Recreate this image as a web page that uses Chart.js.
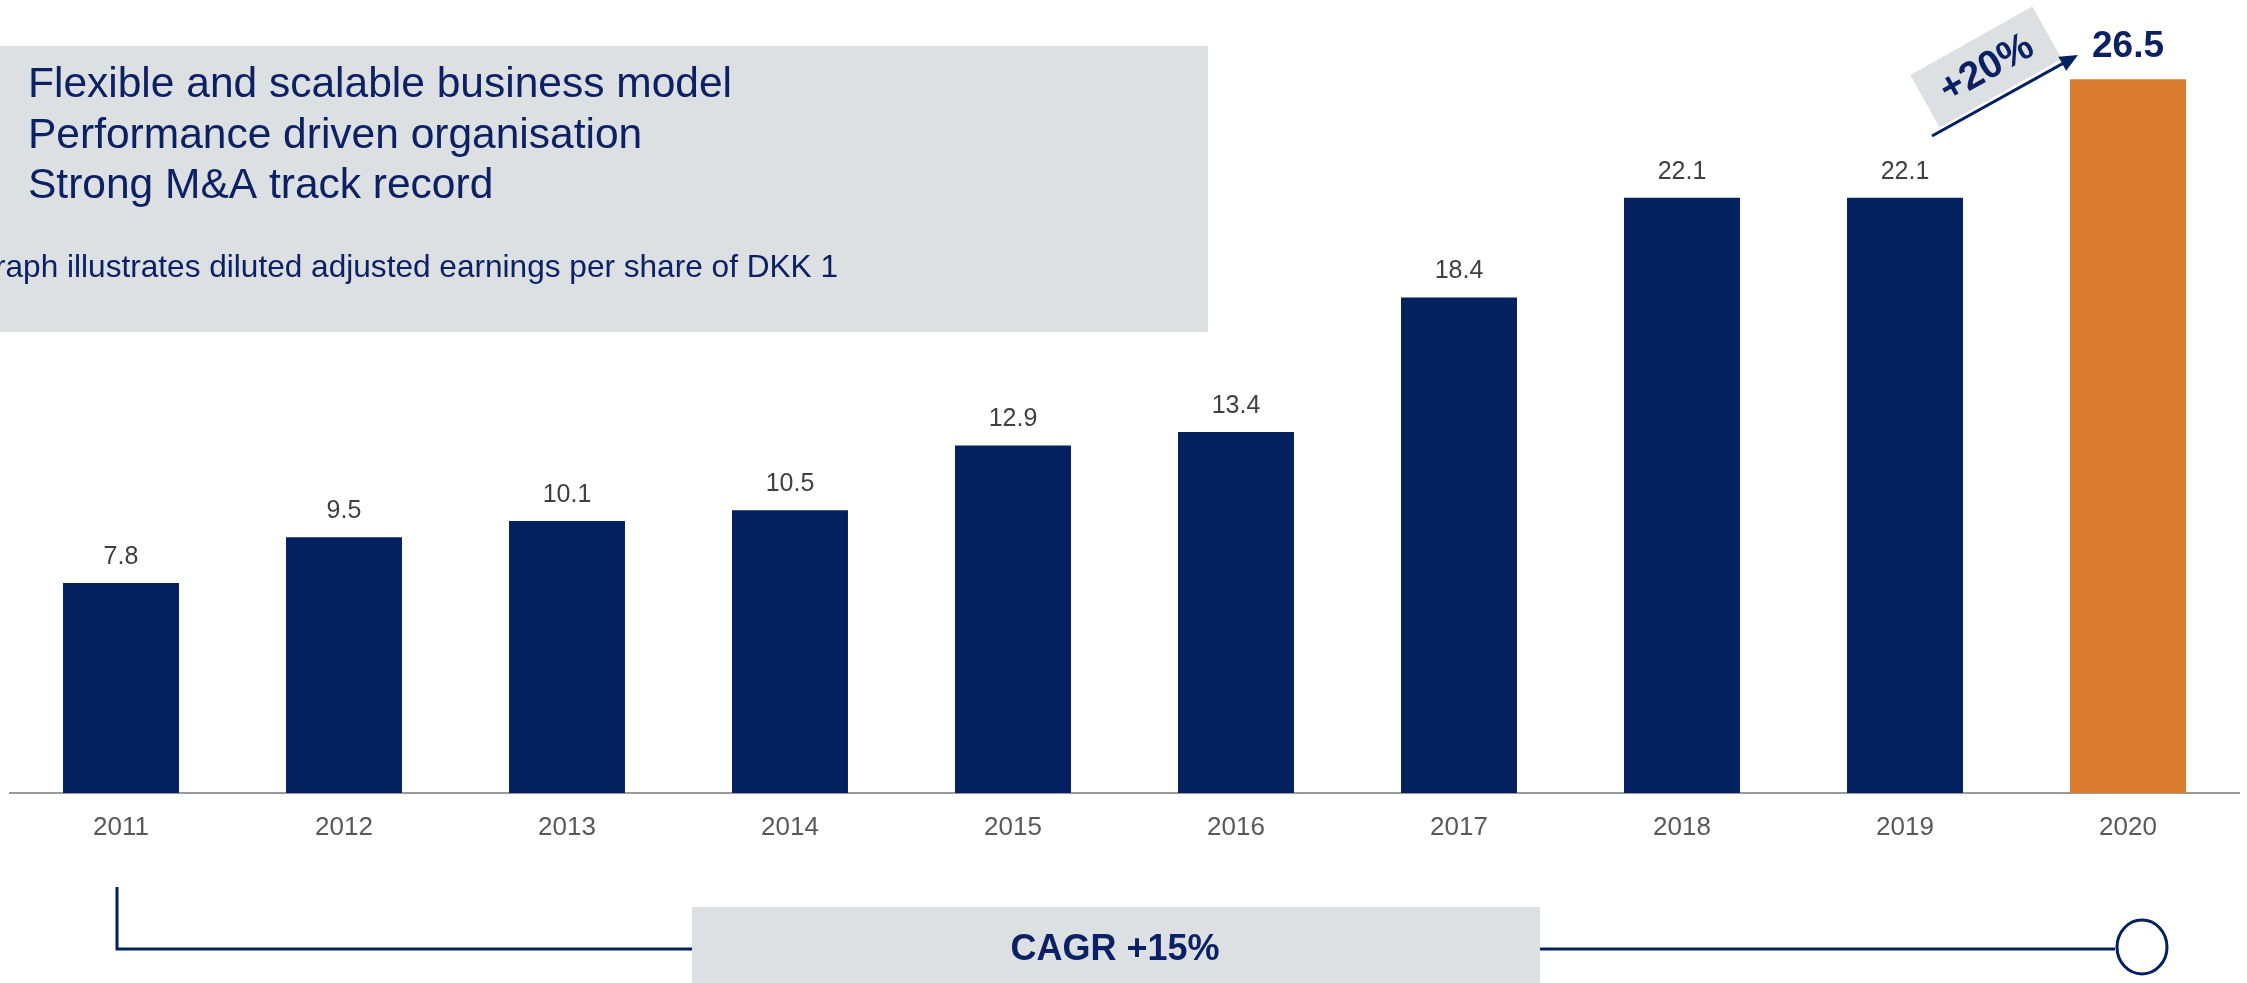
<!DOCTYPE html>
<html>
<head>
<meta charset="utf-8">
<script src="https://cdn.jsdelivr.net/npm/chart.js@4"></script>
<style>
  body { margin: 0; background: #fff; }
  #wrap { width: 2247px; height: 983px; }
</style>
</head>
<body>
<div id="wrap"><canvas id="myChart" width="2247" height="983"></canvas></div>
<script>
// chart data
const years = ['2011', '2012', '2013', '2014', '2015', '2016', '2017', '2018', '2019', '2020'];
const eps = [7.8, 9.5, 10.1, 10.5, 12.9, 13.4, 18.4, 22.1, 22.1, 26.5];
const bulletLines = ['Flexible and scalable business model', 'Performance driven organisation', 'Strong M&A track record'];
const note = 'The graph illustrates diluted adjusted earnings per share of DKK 1';
const growthLabel = '+20%';
const cagrLabel = 'CAGR +15%';

const navy = '#03215F';
const textNavy = '#0C2163';
const orange = '#D97C2F';
const boxGrey = '#DDE0E3';
const font = '"Liberation Sans", Arial, sans-serif';

const barColors = eps.map((v, i) => i === eps.length - 1 ? orange : navy);

// grey text box behind the chart
const boxPlugin = {
    id: 'box',
    beforeDraw(chart) {
        const ctx = chart.ctx;
        ctx.save();
        ctx.fillStyle = boxGrey;
        ctx.fillRect(0, 46, 1208, 286);
        ctx.fillStyle = textNavy;
        ctx.textBaseline = 'alphabetic';
        ctx.textAlign = 'left';
        ctx.font = '42.5px ' + font;
        bulletLines.forEach((t, i) => ctx.fillText(t, 28, 97 + i * 50.5));
        ctx.font = '31.6px ' + font;
        ctx.textAlign = 'right';
        ctx.fillText(note, 838, 277);
        ctx.restore();
    }
};

// value labels and annotations
const labelPlugin = {
    id: 'labels',
    afterDraw(chart) {
        const ctx = chart.ctx;
        const meta = chart.getDatasetMeta(0);
        ctx.save();
        ctx.textAlign = 'center';
        ctx.textBaseline = 'middle';
        meta.data.forEach((bar, i) => {
            if (i === eps.length - 1) {
                ctx.font = 'bold 37px ' + font;
                ctx.fillStyle = textNavy;
                ctx.fillText(eps[i].toFixed(1), bar.x, bar.y - 33);
            } else {
                ctx.font = '25px ' + font;
                ctx.fillStyle = '#404040';
                ctx.fillText(eps[i].toFixed(1), bar.x, bar.y - 26);
            }
        });

        // +20% rotated box
        ctx.save();
        ctx.translate(1986, 67);
        ctx.rotate(-29.3 * Math.PI / 180);
        ctx.fillStyle = boxGrey;
        ctx.fillRect(-70, -30, 140, 60);
        ctx.fillStyle = textNavy;
        ctx.font = 'bold 39px ' + font;
        ctx.fillText(growthLabel, 0, 2);
        ctx.restore();

        // arrow
        const x0 = 1932, y0 = 136, x1 = 2078, y1 = 55;
        const ang = Math.atan2(y1 - y0, x1 - x0);
        ctx.strokeStyle = navy;
        ctx.fillStyle = navy;
        ctx.lineWidth = 3;
        ctx.beginPath();
        ctx.moveTo(x0, y0);
        ctx.lineTo(x1 - 12 * Math.cos(ang), y1 - 12 * Math.sin(ang));
        ctx.stroke();
        ctx.beginPath();
        ctx.moveTo(x1, y1);
        ctx.lineTo(x1 - 18 * Math.cos(ang) + 8 * Math.sin(ang), y1 - 18 * Math.sin(ang) - 8 * Math.cos(ang));
        ctx.lineTo(x1 - 18 * Math.cos(ang) - 8 * Math.sin(ang), y1 - 18 * Math.sin(ang) + 8 * Math.cos(ang));
        ctx.closePath();
        ctx.fill();

        // CAGR bracket
        ctx.lineWidth = 3;
        ctx.beginPath();
        ctx.moveTo(117, 887);
        ctx.lineTo(117, 949);
        ctx.lineTo(2115, 949);
        ctx.stroke();
        ctx.fillStyle = boxGrey;
        ctx.fillRect(692, 907, 848, 76);
        ctx.fillStyle = textNavy;
        ctx.font = 'bold 36px ' + font;
        ctx.fillText(cagrLabel, 1115, 950);
        ctx.beginPath();
        ctx.ellipse(2142, 947, 25, 27, 0, 0, Math.PI * 2);
        ctx.fillStyle = '#fff';
        ctx.fill();
        ctx.stroke();
        ctx.restore();
    }
};

const data = {
    labels: years,
    datasets: [
        {
            label: 'Diluted adjusted EPS',
            data: eps,
            backgroundColor: barColors,
            borderWidth: 0,
            barPercentage: 0.52,
            categoryPercentage: 1,
        },
    ]
};

const config = {
    type: 'bar',
    data: data,
    options: {
        responsive: false,
        animation: false,
        layout: { padding: { left: 9.5, right: 7.5, top: 12, bottom: 0 } },
        plugins: {
            legend: { display: false },
            tooltip: { enabled: false },
        },
        scales: {
            x: {
                grid: { display: false, drawTicks: false },
                border: { display: true, color: '#9A9A9A', width: 2 },
                ticks: { color: '#595959', font: { family: font, size: 26 }, padding: 19 },
                afterFit(scale) { scale.height = 190; },
            },
            y: { display: false, min: 0, max: 29 },
        },
    },
    plugins: [boxPlugin, labelPlugin],
};

const myChart = new Chart(document.getElementById('myChart'), config);
</script>
</body>
</html>
